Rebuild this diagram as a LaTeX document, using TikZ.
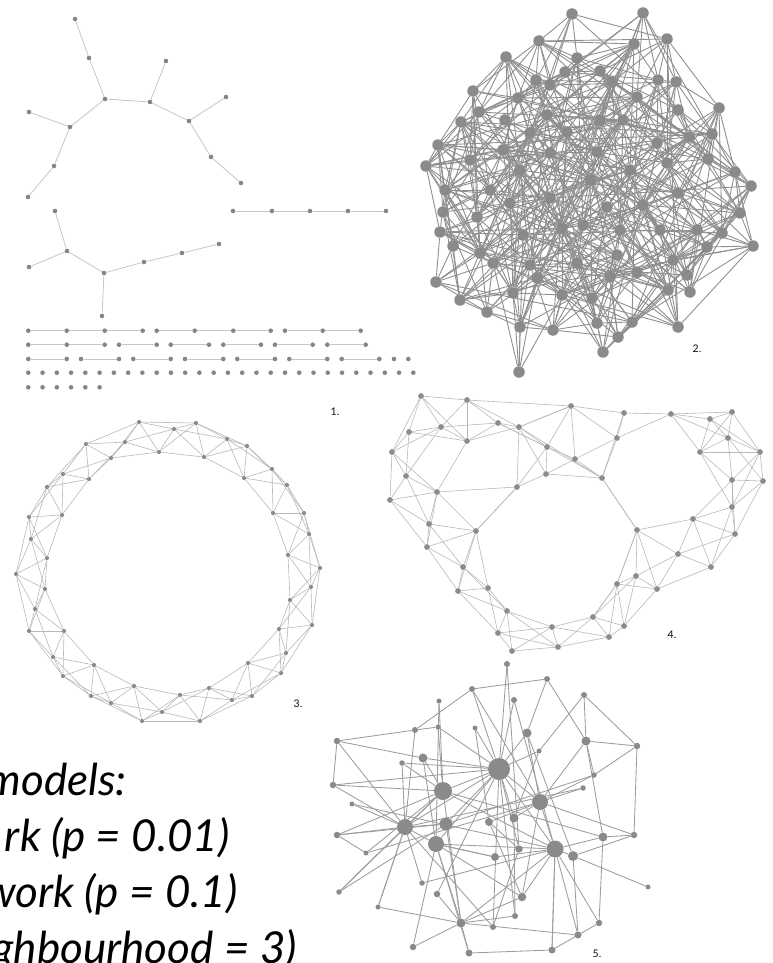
\documentclass[tikz,border=0pt]{standalone}
\usepackage{fontspec}
\setmainfont{Lato}
\newfontfamily\lblfont{Lato}
\pgfdeclarelayer{bg}
\pgfsetlayers{bg,main}
\definecolor{nA}{HTML}{858585}
\definecolor{eA}{HTML}{C6C6C6}
\definecolor{nB}{HTML}{8A8A8A}
\definecolor{eB}{HTML}{8F8F8F}
\definecolor{nC}{HTML}{8C8C8C}
\definecolor{eC}{HTML}{B8B8B8}
\definecolor{nE}{HTML}{8A8A8A}
\definecolor{eE}{HTML}{9C9C9C}
\definecolor{txt}{HTML}{111111}
\tikzset{
  dotA/.style={circle,fill=nA,draw=none,inner sep=0pt,minimum size=4.6pt},
  lnA/.style={draw=eA,line width=0.8pt},
  dotB/.style={circle,fill=nB,inner sep=0pt,minimum size=11.5pt},
  lnB/.style={draw=eB,line width=0.9pt},
  dotC/.style={circle,fill=nC,inner sep=0pt,minimum size=4.2pt},
  lnC/.style={draw=eC,line width=0.6pt},
  dotD/.style={circle,fill=nC,inner sep=0pt,minimum size=5.8pt},
  dotE/.style={circle,fill=nE,inner sep=0pt,minimum size=#1},
  lnE/.style={draw=eE,line width=0.85pt},
  numlbl/.style={font=\lblfont\fontsize{10.5}{12}\selectfont,text=txt,inner sep=0pt},
  bigtxt/.style={font=\itshape\fontsize{44}{50}\selectfont,text=black,inner sep=0pt,anchor=base east},
}
\begin{document}
\begin{tikzpicture}[x=1pt,y=-1pt]
\useasboundingbox (0,0) rectangle (773,963);

% ---------------- Network 1 ----------------
\foreach \n/\x/\y in {a/75/19,b/89/58,c/105/99,d/150/102,e/166/61,f/189/121,g/226/97,h/211/157,i/241/183,j/70/127,k/29/112,l/54/166,m/28/197,n/55/211,o/67/251,p/29/267,q/104/273,r/144/262,s/182/253,t/219/244,u/102/316}
  \node[dotA] (t\n) at (\x,\y) {};
\foreach \x [count=\i] in {233,272,310,348,386}
  \node[dotA] (ch\i) at (\x,211) {};
\foreach \x [count=\i] in {28.3,66.7,104.7,142.7,156.7,194.7,233.3,270.7,285,322.7,360.7}
  \node[dotA] (ra\i) at (\x,330.7) {};
\foreach \x [count=\i] in {28.3,66.7,104.7,119,156.7,170.7,209,223.3,261,275,312.7,327.3,365.7}
  \node[dotA] (rb\i) at (\x,344.7) {};
\foreach \x [count=\i] in {28.3,66.7,81,119,133.3,170.7,185,223.3,237.3,275,289.3,327.3,341.7,379.3,394,408.3}
  \node[dotA] (rc\i) at (\x,359) {};
\foreach \i in {1,...,28}
  \node[dotA] (rd\i) at ({28.3+14.26*(\i-1)},372.7) {};
\foreach \i in {1,...,6}
  \node[dotA] (re\i) at ({28.3+14.26*(\i-1)},387.3) {};
\begin{pgfonlayer}{bg}
\foreach \a/\b in {a/b,b/c,c/d,d/e,d/f,f/g,f/h,h/i,c/j,j/k,j/l,l/m,n/o,o/p,o/q,q/r,r/s,s/t,q/u}
  \draw[lnA] (t\a) -- (t\b);
\foreach \a/\b in {1/2,2/3,3/4,4/5}
  \draw[lnA] (ch\a) -- (ch\b);
\foreach \a/\b in {1/2,2/3,3/4,5/6,6/7,7/8,9/10,10/11}
  \draw[lnA] (ra\a) -- (ra\b);
\foreach \a/\b in {1/2,2/3,4/5,6/7,8/9,10/11,12/13}
  \draw[lnA] (rb\a) -- (rb\b);
\foreach \a/\b in {1/2,3/4,5/6,7/8,9/10,11/12,13/14}
  \draw[lnA] (rc\a) -- (rc\b);
\end{pgfonlayer}
\node[numlbl] (lab1) at (335,412) {1.};

% ---------------- Network 2 ----------------
\foreach \x/\y [count=\i] in {572/14,643/13,539/41,634/44,667/39,506/57,577/58,600/71,565/72,536/80,
 612/82,658/80,676/82,473/91,550/85,518/98,637/97,719/108,479/112,678/110,
 461/122,547/115,623/120,712/134,689/137,438/145,657/143,530/133,470/160,708/159,
 426/166,735/172,597/152,567/132,503/150,550/153,667/163,751/186,445/190,678/193,
 740/213,443/212,510/203,477/217,607/207,550/198,583/225,643/205,440/232,722/233,
 753/246,453/246,480/253,523/235,562/228,617/255,697/230,707/247,493/263,530/265,
 577/263,637/272,673/260,436/282,537/278,610/277,687/275,668/290,690/292,513/293,
 562/295,592/298,487/312,520/327,553/330,597/323,632/322,678/327,618/337,603/352,
 519/372,590/180,520/170,630/170,600/120,490/190,660/230,505/120,460/300,620/230} {
  \node[dotB] (b\i) at (\x,\y) {};
  \expandafter\xdef\csname bx\i\endcsname{\x}
  \expandafter\xdef\csname by\i\endcsname{\y}
}
\begin{pgfonlayer}{bg}
\pgfmathsetseed{4711}
\foreach \i in {1,...,89} {
  \pgfmathtruncatemacro\ii{\i+1}
  \foreach \j in {\ii,...,90} {
    \edef\xa{\csname bx\i\endcsname}\edef\ya{\csname by\i\endcsname}
    \edef\xb{\csname bx\j\endcsname}\edef\yb{\csname by\j\endcsname}
    \pgfmathsetmacro\dd{veclen(\xa-\xb,\ya-\yb)}
    \pgfmathsetmacro\rr{rnd}
    \pgfmathtruncatemacro\ok{(\dd<70)*(\rr<0.47)+(\dd>=70)*(\dd<130)*(\rr<0.26)+(\dd>=130)*(\rr<0.05)}
    \ifnum\ok>0 \draw[lnB] (b\i) -- (b\j);\fi
  }
}
\end{pgfonlayer}
\node[numlbl] (lab2) at (697,349) {2.};

% ---------------- Network 3 ----------------
\foreach \x/\y [count=\i] in {86/444,111/458,125/442,139/422,159/452,174/429,196/423,204/457,227/439,247/446,
 244/478,272/469,287/485,273/513,304/513,309/534,288/555,320/568,311/587,290/600,
 312/625,279/629,286/653,281/673,248/663,252/696,232/700,209/688,200/721,180/695,
 162/712,142/721,134/686,111/703,91/696,94/665,63/676,53/657,64/631,29/631,
 35/609,45/589,16/574,47/558,31/539,29/517,62/515,47/487,63/474,89/479}
  \node[dotC] (c\i) at (\x,\y) {};
\begin{pgfonlayer}{bg}
\foreach \i in {1,...,50} {
  \foreach \k in {1,2,3} {
    \pgfmathtruncatemacro\j{mod(\i+\k-1,50)+1}
    \draw[lnC] (c\i) -- (c\j);
  }
}
\end{pgfonlayer}
\node[numlbl] (lab3) at (298,704) {3.};

% ---------------- Network 4 ----------------
\foreach \x/\y [count=\i] in {421/396,467/400,409/432,441/427,467/441,498/423,519/427,392/452,406/476,390/500,
 437/492,429/524,427/547,476/531,463/567,458/591,488/588,507/611,498/633,512/651,
 552/627,558/647,593/617,609/637,624/626,617/584,636/576,657/589,637/530,678/554,
 711/567,693/519,735/534,732/507,732/480,763/481,760/452,728/438,700/452,710/419,
 732/412,671/414,624/413,617/438,602/478,571/406,575/459,547/447,546/474,517/487} {
  \node[dotD] (d\i) at (\x,\y) {};
  \expandafter\xdef\csname dx\i\endcsname{\x}
  \expandafter\xdef\csname dy\i\endcsname{\y}
}
\begin{pgfonlayer}{bg}
\foreach \i in {1,...,49} {
  \pgfmathtruncatemacro\ii{\i+1}
  \foreach \j in {\ii,...,50} {
    \edef\xa{\csname dx\i\endcsname}\edef\ya{\csname dy\i\endcsname}
    \edef\xb{\csname dx\j\endcsname}\edef\yb{\csname dy\j\endcsname}
    \pgfmathtruncatemacro\ok{veclen(\xa-\xb,\ya-\yb)<64}
    \ifnum\ok>0 \draw[lnC] (d\i) -- (d\j);\fi
  }
}
\foreach \a/\b in {50/14,50/11,45/29,7/45,7/46,2/46,6/48,1/5,43/45,26/29,23/26}
  \draw[lnC] (d\a) -- (d\b);
\end{pgfonlayer}
\node[numlbl] (lab4) at (672,635) {4.};

% ---------------- Network 5 ----------------
\foreach \x/\y/\s [count=\i] in {507/664/6,547/679/6,472/689/6,584/695/6,439/701/5,514/700/6,415/730/6,438/727/5,475/728/5,527/733/9,
 586/741/9,637/746/6.5,337/741/6.5,539/751/5,402/763/5.5,423/758/9,499/769/22,594/775/5.5,333/785/6.5,583/788/5.5,
 443/791/18,540/802/16,352/804/5,405/827/16,446/824/13,489/822/8,514/818/9,337/835/6.5,436/844/16,603/837/9,
 634/835/6.5,555/849/17,573/856/10,519/849/7.5,495/857/8,366/853/5,339/892/5.5,422/883/5.5,437/894/6.5,522/897/8.5,
 648/887/5,378/907/5,461/923/9,493/927/6,515/916/6,599/923/6.5,578/935/7,413/947/6.5,469/953/7,552/950/7}
  \node[dotE=\s pt] (f\i) at (\x,\y) {};
\begin{pgfonlayer}{bg}
\foreach \a/\b in {1/17,1/34,2/3,2/11,2/10,3/7,3/17,3/22,4/11,4/12,4/14,5/21,5/29,6/17,6/32,
 7/8,7/24,7/13,8/17,8/21,9/17,9/26,10/17,10/22,10/33,11/12,11/18,11/22,11/30,12/31,12/18,
 13/19,13/16,13/24,14/17,14/27,15/17,15/21,15/24,16/17,16/29,16/21,18/22,18/25,19/17,19/24,19/21,
 20/22,20/24,21/17,21/24,21/32,21/28,22/17,22/32,22/26,23/24,23/32,24/28,24/29,24/37,24/42,24/17,
 25/17,25/24,25/43,26/34,26/40,27/22,27/17,27/45,28/36,28/25,29/17,29/43,29/48,29/35,
 30/32,30/31,30/46,30/21,31/22,31/33,32/17,32/33,32/47,32/50,32/40,32/29,33/41,33/47,34/17,34/44,
 35/29,35/32,36/22,36/21,37/21,37/25,38/32,38/24,39/17,39/43,40/22,40/29,40/43,42/43,42/24,
 43/21,43/48,43/49,43/32,44/17,44/24,45/17,45/43,46/32,46/50,47/43,49/50,49/29,50/32}
  \draw[lnE] (f\a) -- (f\b);
\end{pgfonlayer}
\node[numlbl] (lab5) at (597,954) {5.};

% ---------------- Caption text (cut at the left edge, as in the reference) ----------------
\node[bigtxt] (cap1) at (127,795) {models:};
\node[bigtxt] (cap2) at (230,851) {rk (p = 0.01)};
\node[bigtxt] (cap3) at (238,907) {work (p = 0.1)};
\node[bigtxt] (cap4) at (297,963) {ghbourhood = 3)};
\end{tikzpicture}
\end{document}
